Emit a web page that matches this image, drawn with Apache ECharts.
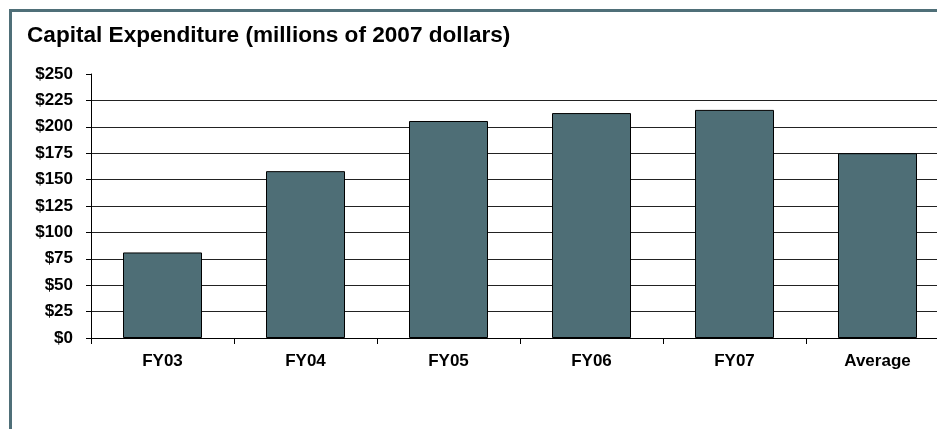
<!DOCTYPE html>
<html><head><meta charset="utf-8">
<script src="https://cdn.jsdelivr.net/npm/echarts@6/dist/echarts.min.js"></script>
<style>html,body{margin:0;padding:0;background:#fff;overflow:hidden;width:937px;height:429px;}#c{width:949px;height:429px;}</style>
</head><body><div id="c"></div>
<script>
const categories = ['FY03','FY04','FY05','FY06','FY07','Average'];
const values = [81, 158, 205.5, 213, 216, 175];
const yTicks = [0,25,50,75,100,125,150,175,200,225,250];
const titleText = 'Capital Expenditure (millions of 2007 dollars)';

const chart = echarts.init(document.getElementById('c'), null, {renderer:'canvas'});
const gridColors = yTicks.map((v,i)=> i===yTicks.length-1 ? 'rgba(0,0,0,0)' : '#222');
const font = 'Liberation Sans, Arial';
chart.setOption({
  animation:false,
  backgroundColor:'#fff',
  title:{text:titleText,left:22,top:19,padding:5,textStyle:{fontFamily:font,fontWeight:'bold',fontSize:22.6,color:'#000'}},
  graphic:[
    {type:'rect',shape:{x:9,y:9,width:945,height:3},style:{fill:'#4f6f78'},z:100},
    {type:'rect',shape:{x:9,y:9,width:3,height:430},style:{fill:'#4f6f78'},z:100}
  ],
  grid:{left:91,top:74,bottom:91,right:0,containLabel:false},
  xAxis:{type:'category',data:categories,
    axisLine:{lineStyle:{color:'#000',width:1}},
    axisTick:{show:true,length:6,lineStyle:{color:'#000'}},
    axisLabel:{fontFamily:font,fontWeight:'bold',fontSize:17,color:'#000',margin:15}},
  yAxis:{type:'value',min:0,max:250,interval:25,
    axisLine:{show:true,lineStyle:{color:'#000',width:1}},
    axisTick:{show:true,length:5,lineStyle:{color:'#000'}},
    splitLine:{show:true,lineStyle:{color:gridColors,width:1}},
    axisLabel:{fontFamily:font,fontWeight:'bold',fontSize:17,color:'#000',margin:18,formatter:v=>'$'+v}},
  series:[{type:'bar',data:values,barWidth:79,
    itemStyle:{color:'#4e6e76',borderColor:'#000',borderWidth:1}}]
});
</script></body></html>
